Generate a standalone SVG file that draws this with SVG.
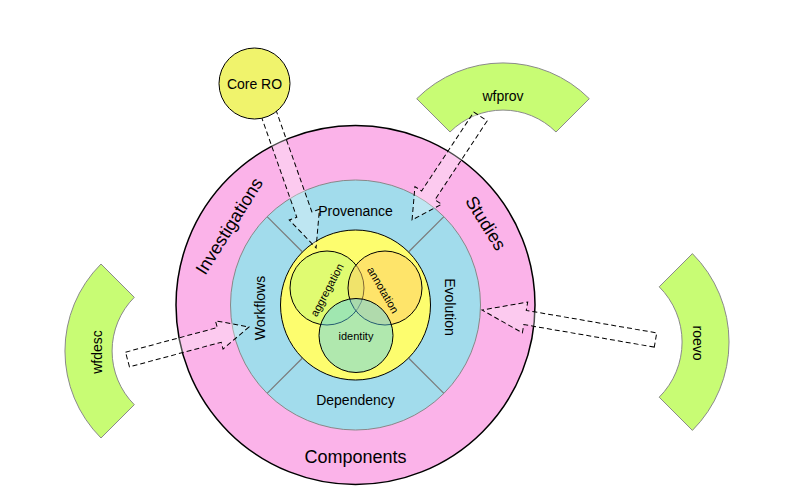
<svg xmlns="http://www.w3.org/2000/svg" width="796" height="496" viewBox="0 0 796 496">
<style>
text{font-family:"Liberation Sans",Arial,sans-serif;fill:#000;text-anchor:middle}
.big{font-size:18px}
.mid{font-size:14px}
.sm{font-size:11px}
.sector{fill:#c8fc74;stroke:#8a8a8a;stroke-width:1}
.div{stroke:#7a7a7a;stroke-width:1.2}
.arrow{fill:#ffffff;fill-opacity:0.3;stroke:#000;stroke-width:1;stroke-dasharray:5,3}
</style>
<rect width="796" height="496" fill="#ffffff"/>
<g id="components">
<circle cx="355.5" cy="305" r="179.5" fill="#fbb3e9" stroke="#000" stroke-width="1.5"/>
<text class="big" x="355.5" y="463">Components</text>
<text class="big" transform="translate(229,226) rotate(-58)" dy="0.35em">Investigations</text>
<text class="big" transform="translate(486,223) rotate(58)" dy="0.35em">Studies</text>
</g>
<g id="ring">
<circle cx="355.5" cy="305" r="125" fill="#a2dcec" stroke="#888" stroke-width="1"/>
<line class="div" x1="302.5" y1="252" x2="267.1" y2="216.6"/>
<line class="div" x1="408.5" y1="252" x2="443.9" y2="216.6"/>
<line class="div" x1="302.5" y1="358" x2="267.1" y2="393.4"/>
<line class="div" x1="408.5" y1="358" x2="443.9" y2="393.4"/>
<text class="mid" x="355.5" y="216">Provenance</text>
<text class="mid" x="355.5" y="405">Dependency</text>
<text class="mid" transform="translate(260,308) rotate(-90)" dy="0.35em">Workflows</text>
<text class="mid" transform="translate(450,307) rotate(90)" dy="0.35em">Evolution</text>
</g>
<g id="core">
<circle cx="355.5" cy="305" r="75" fill="#fdfd6e" stroke="#000" stroke-width="1"/>
</g>
<g id="aggregation">
<circle cx="327" cy="288" r="37" fill="#c4fa74" fill-opacity="0.5" stroke="#000" stroke-width="1"/>
<text class="sm" transform="translate(327,290) rotate(-62)" dy="0.35em">aggregation</text>
</g>
<g id="annotation">
<circle cx="385" cy="288" r="37" fill="#ffcb66" fill-opacity="0.5" stroke="#000" stroke-width="1"/>
<text class="sm" transform="translate(383,290) rotate(60)" dy="0.35em">annotation</text>
</g>
<g id="identity">
<circle cx="356" cy="335.5" r="37" fill="#53cffc" fill-opacity="0.45" stroke="#000" stroke-width="1"/>
<text class="sm" x="356" y="340">identity</text>
</g>
<g id="wfprov">
<path class="sector" d="M416.7 98.7 A122 122 0 0 1 589.3 98.7 L556 132 A75 75 0 0 0 450 132 Z"/>
<text class="mid" x="503" y="101">wfprov</text>
</g>
<g id="wfdesc">
<path class="sector" d="M101 264 A123 123 0 0 0 101 438 L134.3 404.7 A76 76 0 0 1 134.3 297.3 Z"/>
<text class="mid" transform="translate(97,352) rotate(-90)" dy="0.35em">wfdesc</text>
</g>
<g id="roevo">
<path class="sector" d="M692.4 253.6 A125 125 0 0 1 692.4 430.4 L659.2 397.2 A78 78 0 0 0 659.2 286.8 Z"/>
<text class="mid" transform="translate(698,343) rotate(90)" dy="0.35em">roevo</text>
</g>
<g id="connectors">
<path class="arrow" transform="translate(268.3,112.3) rotate(70.6)" d="M0 -8 L108.5 -8 L108.5 -16 L143.8 0 L108.5 16 L108.5 8 L0 8 Z"/>
<path class="arrow" transform="translate(480.5,116.5) rotate(123.5)" d="M0 -8 L94.6 -8 L94.6 -16 L124 0 L94.6 16 L94.6 8 L0 8 Z"/>
<path class="arrow" transform="translate(127.5,359.5) rotate(-15)" d="M0 -7.6 L95 -7.6 L95 -14.6 L125.8 0 L95 14.6 L95 7.6 L0 7.6 Z"/>
<path class="arrow" transform="translate(655.5,340) rotate(189.8)" d="M0 -7.2 L132.4 -7.2 L132.4 -15.6 L176 0 L132.4 15.6 L132.4 7.2 L0 7.2 Z"/>
</g>
<g id="coreRO">
<circle cx="254.5" cy="83.5" r="35.5" fill="#f0f36c" stroke="#000" stroke-width="1"/>
<text class="mid" x="254.5" y="89">Core RO</text>
</g>
</svg>
